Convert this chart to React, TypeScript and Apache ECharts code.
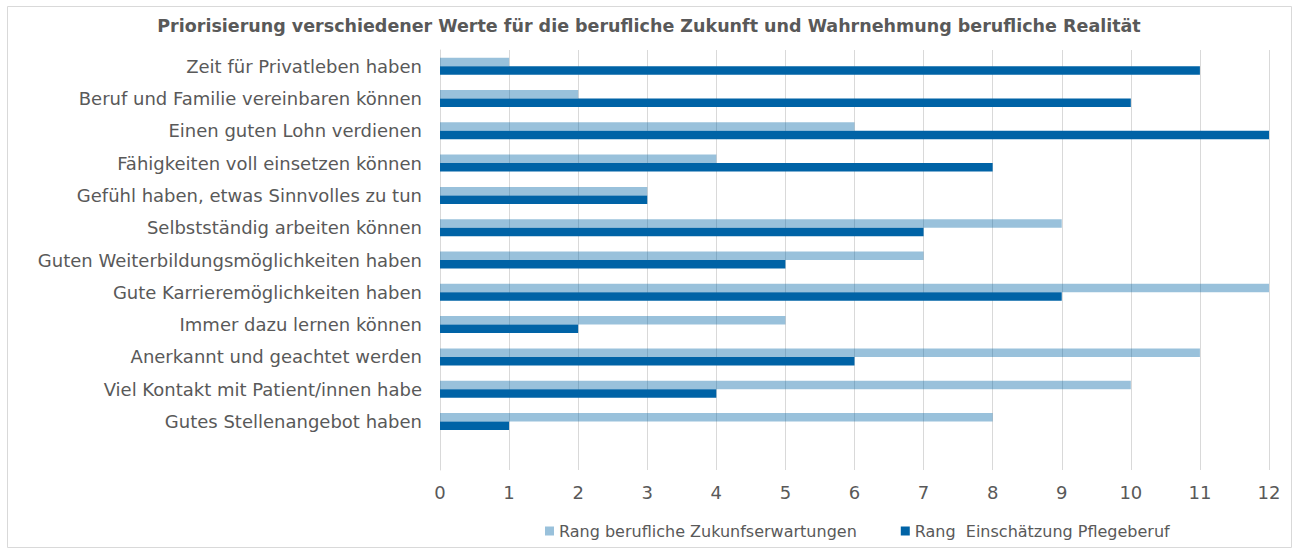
import React, { useEffect, useRef } from "react";
import * as echarts from "echarts";

const categories = [
  "Zeit für Privatleben haben",
  "Beruf und Familie vereinbaren können",
  "Einen guten Lohn verdienen",
  "Fähigkeiten voll einsetzen können",
  "Gefühl haben, etwas Sinnvolles zu tun",
  "Selbstständig arbeiten können",
  "Guten Weiterbildungsmöglichkeiten haben",
  "Gute Karrieremöglichkeiten haben",
  "Immer dazu lernen können",
  "Anerkannt und geachtet werden",
  "Viel Kontakt mit Patient/innen habe",
  "Gutes Stellenangebot haben",
];
const zukunft = [1, 2, 6, 4, 3, 9, 7, 12, 5, 11, 10, 8];
const pflege = [11, 10, 12, 8, 3, 7, 5, 9, 2, 6, 4, 1];
const seriesNames = ["Rang berufliche Zukunfserwartungen", "Rang  Einschätzung Pflegeberuf"];
const titleText = "Priorisierung verschiedener Werte für die berufliche Zukunft und Wahrnehmung berufliche Realität";

const FONT = "'DejaVu Sans', 'Liberation Sans', Arial, sans-serif";
const GREY = "#595959";

export default function App() {
  const ref = useRef<HTMLDivElement>(null);
  useEffect(() => {
    if (!ref.current) return;
    const chart = echarts.init(ref.current, undefined, { renderer: "svg" });
    const cats = [...categories, ""];
    chart.setOption({
      animation: false,
      backgroundColor: "#ffffff",
      textStyle: { fontFamily: FONT },
      title: {
        text: titleText,
        left: "center",
        top: 12,
        textStyle: { fontFamily: FONT, fontSize: 17.5, fontWeight: "bold", color: GREY },
      },
      graphic: [
        {
          type: "rect",
          shape: { x: 7.5, y: 6.5, width: 1284, height: 541 },
          style: { fill: "none", stroke: "#d9d9d9", lineWidth: 1 },
          silent: true,
        },
      ],
      legend: {
        left: 540,
        top: 518,
        itemWidth: 9,
        itemHeight: 9,
        itemGap: 44,
        icon: "rect",
        textStyle: { fontFamily: FONT, fontSize: 16, color: GREY },
        data: seriesNames,
      },
      grid: { left: 440, right: 29, top: 50, bottom: 81, containLabel: false },
      xAxis: {
        type: "value",
        min: 0,
        max: 12,
        interval: 1,
        axisLine: { show: false },
        axisTick: { show: false },
        axisLabel: { fontFamily: FONT, fontSize: 18, color: GREY, margin: 13 },
        splitLine: { show: true, lineStyle: { color: "#d9d9d9", width: 1 } },
      },
      yAxis: {
        type: "category",
        inverse: true,
        data: cats,
        axisLine: { show: true, lineStyle: { color: "#d9d9d9" } },
        axisTick: { show: false },
        axisLabel: { fontFamily: FONT, fontSize: 18, color: GREY, margin: 18 },
      },
      series: [
        {
          name: seriesNames[0],
          type: "bar",
          data: [...zukunft, null],
          barWidth: 8.5,
          barGap: "0%",
          itemStyle: { color: "#0063a6", opacity: 0.4 },
        },
        {
          name: seriesNames[1],
          type: "bar",
          data: [...pflege, null],
          barWidth: 8.5,
          barGap: "0%",
          itemStyle: { color: "#0063a6" },
        },
      ],
    });
    return () => chart.dispose();
  }, []);
  return (
    <div
      ref={ref}
      style={{ position: "absolute", left: 0, top: 0, width: 1298, height: 551 }}
    />
  );
}
